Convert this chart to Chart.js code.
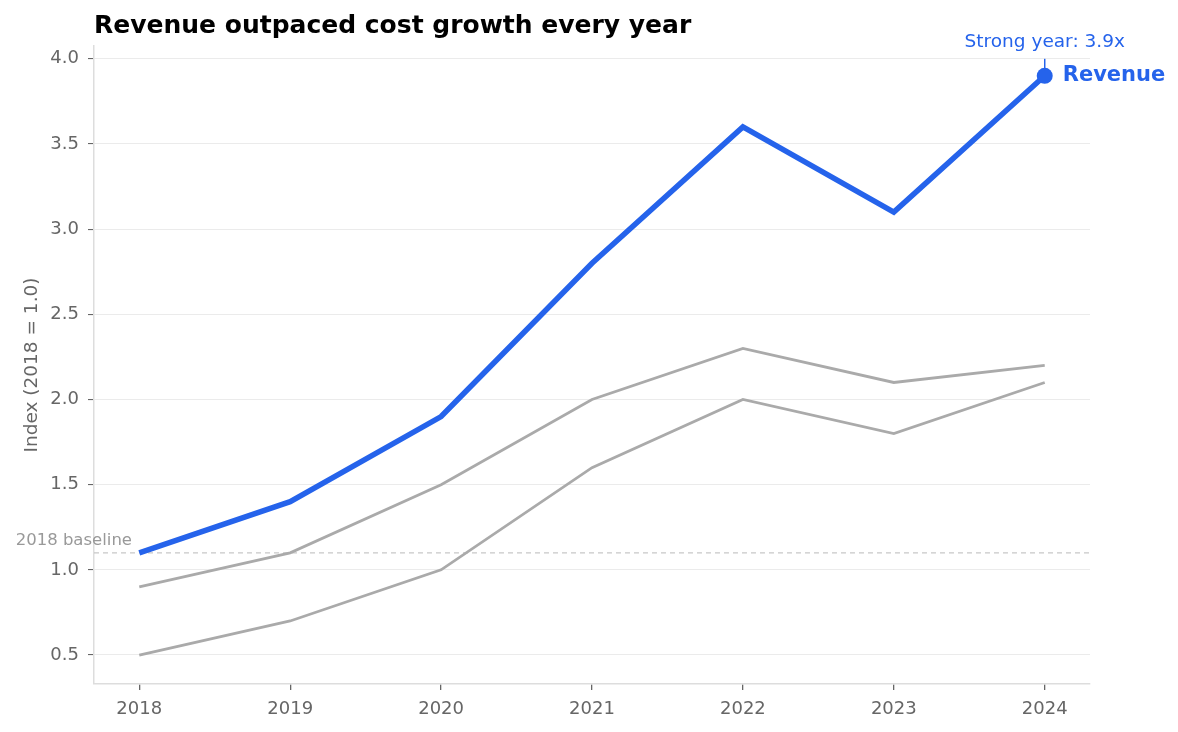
<!DOCTYPE html>
<html>
<head>
<meta charset="utf-8">
<script src="https://cdn.jsdelivr.net/npm/chart.js@4/dist/chart.umd.min.js"></script>
<style>
  html, body { margin: 0; padding: 0; background: #fff; }
  #wrap { width: 1178px; height: 732px; }
</style>
</head>
<body>
<div id="wrap"><canvas id="chart" width="1178" height="732"></canvas></div>
<script>
// datos
const years = ["2018", "2019", "2020", "2021", "2022", "2023", "2024"];
const revenue = [1.1, 1.4, 1.9, 2.8, 3.6, 3.1, 3.9];
const costA = [0.9, 1.1, 1.5, 2.0, 2.3, 2.1, 2.2];
const costB = [0.5, 0.7, 1.0, 1.6, 2.0, 1.8, 2.1];
const yTicks = [0.5, 1.0, 1.5, 2.0, 2.5, 3.0, 3.5, 4.0];
const baseline = 1.1;

const FONT = "'DejaVu Sans', sans-serif";
const BLUE = "#2563eb";
const GRAY = "#aaaaaa";

const pts = arr => arr.map((v, i) => ({ x: i, y: v }));

// anotaciones y título dibujados a mano
const extras = {
    id: "extras",
    beforeDatasetsDraw(chart) {
        const { ctx, chartArea, scales } = chart;
        const yb = scales.y.getPixelForValue(baseline);
        ctx.save();
        ctx.strokeStyle = "#c8c8c8";
        ctx.lineWidth = 1.3;
        ctx.setLineDash([5, 4]);
        ctx.beginPath();
        ctx.moveTo(chartArea.left, yb);
        ctx.lineTo(chartArea.right, yb);
        ctx.stroke();
        ctx.restore();
    },
    afterDraw(chart) {
        const { ctx, chartArea, scales } = chart;
        const last = revenue.length - 1;
        const px = scales.x.getPixelForValue(last);
        const py = scales.y.getPixelForValue(revenue[last]);
        const yb = scales.y.getPixelForValue(baseline);
        ctx.save();

        // título
        ctx.fillStyle = "#000";
        ctx.font = "bold 25px " + FONT;
        ctx.textAlign = "left";
        ctx.textBaseline = "middle";
        ctx.fillText("Revenue outpaced cost growth every year", 94, 26);

        // título eje y
        ctx.save();
        ctx.translate(32, (chartArea.top + chartArea.bottom) / 2);
        ctx.rotate(-Math.PI / 2);
        ctx.fillStyle = "#666";
        ctx.font = "18.5px " + FONT;
        ctx.textAlign = "center";
        ctx.fillText("Index (2018 = 1.0)", 0, 0);
        ctx.restore();

        // etiqueta baseline
        ctx.fillStyle = "#999";
        ctx.font = "16.5px " + FONT;
        ctx.textAlign = "right";
        ctx.textBaseline = "alphabetic";
        ctx.fillText("2018 baseline", 132, yb - 8);

        // anotación
        ctx.strokeStyle = BLUE;
        ctx.lineWidth = 1.5;
        ctx.beginPath();
        ctx.moveTo(px, py - 17);
        ctx.lineTo(px, py - 5);
        ctx.stroke();
        ctx.fillStyle = BLUE;
        ctx.font = "18.5px " + FONT;
        ctx.textAlign = "center";
        ctx.textBaseline = "middle";
        ctx.fillText("Strong year: 3.9x", px, py - 34);

        ctx.font = "bold 21px " + FONT;
        ctx.textAlign = "left";
        ctx.fillText("Revenue", px + 18, py);
        ctx.restore();
    }
};

new Chart(document.getElementById("chart"), {
    type: "line",
    data: {
        datasets: [
            {
                label: "Revenue",
                data: pts(revenue),
                borderColor: BLUE,
                backgroundColor: BLUE,
                borderWidth: 5.5,
                pointRadius: revenue.map((v, i) => i === revenue.length - 1 ? 8 : 0),
                pointBorderWidth: 0,
                order: 0
            },
            {
                label: "Cost A",
                data: pts(costA),
                borderColor: GRAY,
                borderWidth: 2.8,
                pointRadius: 0,
                order: 1
            },
            {
                label: "Cost B",
                data: pts(costB),
                borderColor: GRAY,
                borderWidth: 2.8,
                pointRadius: 0,
                order: 2
            }
        ]
    },
    options: {
        responsive: false,
        animation: false,
        layout: { padding: { left: 0, right: 88, top: 46, bottom: 0 } },
        plugins: {
            legend: { display: false },
            tooltip: { enabled: false },
            title: { display: false }
        },
        scales: {
            x: {
                type: "linear",
                min: -0.3,
                max: 6.3,
                afterFit: s => { s.height = 48; },
                afterBuildTicks: s => { s.ticks = years.map((y, i) => ({ value: i })); },
                ticks: {
                    color: "#666",
                    font: { family: FONT, size: 18 },
                    padding: 9,
                    callback: v => years[v]
                },
                grid: { drawOnChartArea: false, tickLength: 6, tickColor: "#666", lineWidth: 1.3 },
                border: { color: "#ddd", width: 1.5 }
            },
            y: {
                min: 0.33,
                max: 4.075,
                afterFit: s => { s.width = 94; },
                afterBuildTicks: s => { s.ticks = yTicks.map(v => ({ value: v })); },
                ticks: {
                    color: "#666",
                    font: { family: FONT, size: 18 },
                    padding: 9,
                    callback: v => v.toFixed(1)
                },
                grid: { color: "#ebebeb", tickColor: "#666", tickLength: 6, lineWidth: 1.1 },
                border: { color: "#ddd", width: 1.5 }
            }
        }
    },
    plugins: [extras]
});
</script>
</body>
</html>
